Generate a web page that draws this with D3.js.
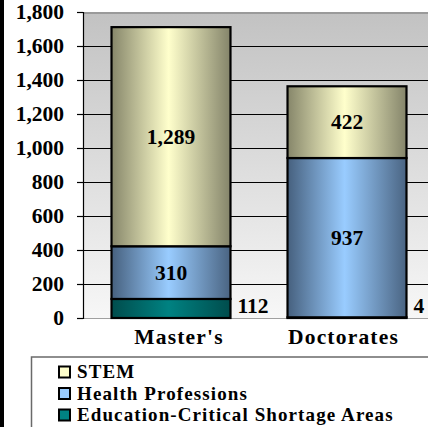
<!DOCTYPE html>
<html><head><meta charset="utf-8">
<script src="https://cdn.jsdelivr.net/npm/d3@7"></script>
<style>
body{margin:0;background:#fff;overflow:hidden;}
svg{display:block;font-family:"Liberation Serif","Times New Roman",serif;font-weight:bold;}
</style>
</head><body><svg id="c" width="428" height="427"></svg>
<script>
const categories = ["Master's", "Doctorates"];
const seriesNames = ["Education-Critical Shortage Areas", "Health Professions", "STEM"];
const education = [112, 4];
const health = [310, 937];
const stem = [1289, 422];
const yTicks = [0, 200, 400, 600, 800, 1000, 1200, 1400, 1600, 1800];
const legendOrder = ["STEM", "Health Professions", "Education-Critical Shortage Areas"];

const seriesValues = [education, health, stem];
const colors = {
  "STEM": ["#86866a", "#ffffcc", "#84846a"],
  "Health Professions": ["#46607e", "#99ccff", "#4a6482"],
  "Education-Critical Shortage Areas": ["#004c4c", "#008282", "#004c4c"]
};
const ids = {"STEM":"gS","Health Professions":"gH","Education-Critical Shortage Areas":"gE"};
const FONT = "Liberation Serif";

const svg = d3.select("#c");
const W = 428, H = 427;
const plot = {left: 83, top: 12, right: 435, bottom: 318};

const defs = svg.append("defs");
const bg = defs.append("linearGradient").attr("id","bg").attr("x1",0).attr("x2",0).attr("y1",0).attr("y2",1);
bg.append("stop").attr("offset",0).attr("stop-color","#c2c2c2");
bg.append("stop").attr("offset",1).attr("stop-color","#f7f7f7");
for (const name of seriesNames) {
  const g = defs.append("linearGradient").attr("id", ids[name]).attr("x1",0).attr("x2",1).attr("y1",0).attr("y2",0);
  g.append("stop").attr("offset",0).attr("stop-color",colors[name][0]);
  g.append("stop").attr("offset",0.48).attr("stop-color",colors[name][1]);
  g.append("stop").attr("offset",1).attr("stop-color",colors[name][2]);
}

// left black strip
svg.append("rect").attr("x",0).attr("y",0).attr("width",4).attr("height",H).attr("fill","#000");

const y = d3.scaleLinear().domain([0, 1800]).range([plot.bottom, plot.top]);
const x = d3.scaleBand().domain(categories).range([plot.left, plot.right]).paddingInner(0.324).paddingOuter(0.162);

// plot background
svg.append("rect").attr("x",plot.left).attr("y",plot.top).attr("width",plot.right-plot.left).attr("height",plot.bottom-plot.top).attr("fill","url(#bg)");
svg.append("line").attr("x1",plot.left).attr("x2",plot.right).attr("y1",plot.top+1).attr("y2",plot.top+1).attr("stroke","#9a9a9a").attr("stroke-width",2);
svg.append("line").attr("x1",plot.left).attr("x2",plot.right).attr("y1",plot.bottom+0.5).attr("y2",plot.bottom+0.5).attr("stroke","#a0a0a0").attr("stroke-width",1);

// gridlines
svg.append("g").selectAll("line").data(yTicks.filter(d => d > 0 && d < 1800)).join("line")
  .attr("x1",plot.left).attr("x2",plot.right)
  .attr("y1",d => Math.round(y(d))+0.5).attr("y2",d => Math.round(y(d))+0.5)
  .attr("stroke","#000").attr("stroke-width",1);

// y axis
const yAxis = svg.append("g").attr("transform",`translate(${plot.left},0)`)
  .call(d3.axisLeft(y).tickValues(yTicks).tickSize(6).tickPadding(13).tickFormat(d3.format(",")));
yAxis.select(".domain").attr("stroke","#000").attr("stroke-width",1.2);
yAxis.selectAll(".tick line").attr("stroke","#000").attr("stroke-width",1.2);
yAxis.selectAll(".tick text").attr("font-family",FONT).attr("font-weight","bold").attr("font-size",21.5).attr("fill","#000");

// stacked bars
const stackData = categories.map((c, i) => {
  const o = {cat: c};
  seriesNames.forEach((s, j) => o[s] = seriesValues[j][i]);
  return o;
});
const stacked = d3.stack().keys(seriesNames)(stackData);

const gBars = svg.append("g");
stacked.forEach(layer => {
  gBars.append("g").selectAll("rect").data(layer).join("rect")
    .attr("x", d => x(d.data.cat))
    .attr("width", x.bandwidth())
    .attr("y", d => y(d[1]))
    .attr("height", d => y(d[0]) - y(d[1]))
    .attr("fill", `url(#${ids[layer.key]})`)
    .attr("stroke","#000").attr("stroke-width",2.2);
});

// data labels
stacked.forEach(layer => {
  const outside = layer.key === "Education-Critical Shortage Areas";
  svg.append("g").selectAll("text").data(layer).join("text")
    .attr("x", d => outside ? x(d.data.cat) + x.bandwidth() + 7 : x(d.data.cat) + x.bandwidth()/2)
    .attr("y", d => outside ? 306 : (y(d[0]) + y(d[1]))/2)
    .attr("text-anchor", outside ? "start" : "middle")
    .attr("dominant-baseline","central")
    .attr("font-size",21.5).attr("fill","#000")
    .text(d => d3.format(",")(d[1]-d[0]));
});

// category labels
svg.append("g").selectAll("text").data(categories).join("text")
  .attr("x", d => x(d) + x.bandwidth()/2 + (d === "Master's" ? 8 : -3.5))
  .attr("y", 344)
  .attr("text-anchor","middle")
  .attr("font-size",21.5).attr("letter-spacing",1.2).attr("fill","#000")
  .text(d => d);

// legend
svg.append("rect").attr("x",31.5).attr("y",357).attr("width",420).attr("height",100)
  .attr("fill","#fff").attr("stroke","#6a6a6a").attr("stroke-width",1.5);
const lg = svg.append("g").selectAll("g").data(legendOrder).join("g")
  .attr("transform",(d,i) => `translate(0,${372 + i*21.5})`);
lg.append("rect").attr("x",59).attr("y",-5.5).attr("width",11).attr("height",11)
  .attr("fill", d => colors[d][1]).attr("stroke","#000").attr("stroke-width",2);
lg.append("text").attr("x",77).attr("y",6).attr("font-size",19).attr("letter-spacing",1.1).attr("fill","#000").text(d => d);
</script>
</body></html>
